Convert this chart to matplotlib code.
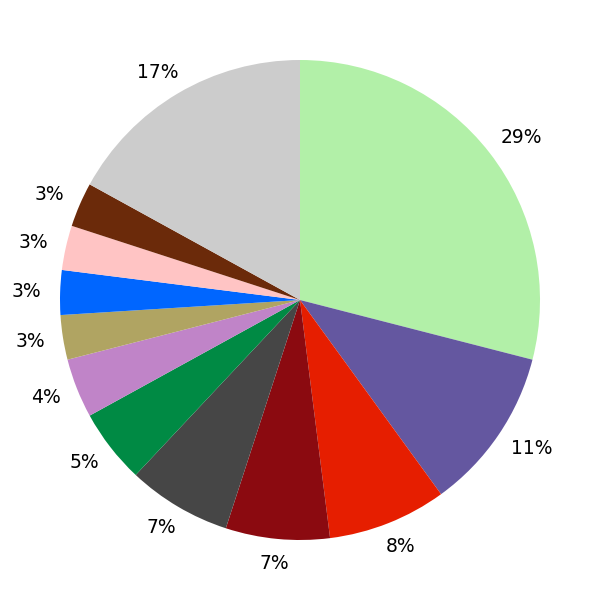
import matplotlib
matplotlib.use("Agg")
import matplotlib.pyplot as plt
import numpy as np

# Slice values (percent), clockwise from 12 o'clock
values = [29, 11, 8, 7, 7, 5, 4, 3, 3, 3, 3, 17]
colors = ['#b2f0a8', '#6457a0', '#e61e00', '#8b0a10', '#464646', '#008a44',
          '#c084c8', '#b0a462', '#0066ff', '#ffc4c4', '#6b2a0a', '#cccccc']

fig = plt.figure(figsize=(6, 6), dpi=100)
ax = fig.add_axes([0, 0, 1, 1])

wedges, texts, autotexts = ax.pie(
    values, colors=colors, startangle=90, counterclock=False,
    autopct='%d%%', pctdistance=1.13, radius=0.8,
    textprops={'fontsize': 13.5, 'color': 'black'},
)
ax.set_xlim(-1, 1)
ax.set_ylim(-1, 1)
ax.set_aspect('equal')
ax.axis('off')

# put labels just outside the rim, pushed out by half their box size
fig.canvas.draw()
renderer = fig.canvas.get_renderer()
px = 2.0 / 600  # data units per pixel
R = 257 * px
for t, w in zip(autotexts, wedges):
    th = np.deg2rad((w.theta1 + w.theta2) / 2)
    bb = t.get_window_extent(renderer)
    hw = bb.width / 2 * px * 1.1
    hh = bb.height / 2 * px * 0.8
    t.set_position((R * np.cos(th) + hw * np.cos(th),
                    R * np.sin(th) + hh * np.sin(th)))

fig.savefig('out.png', dpi=100)
